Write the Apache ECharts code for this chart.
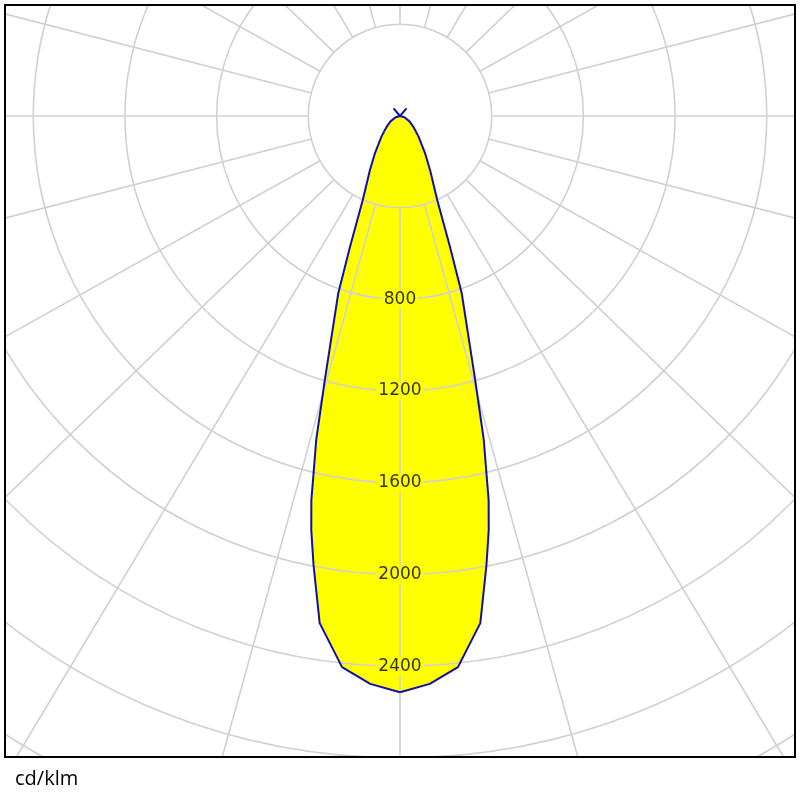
<!DOCTYPE html>
<html>
<head>
<meta charset="utf-8">
<script src="https://cdn.jsdelivr.net/npm/echarts@6/dist/echarts.min.js"></script>
<style>
html,body{margin:0;padding:0;background:#fff;}
#chart{width:800px;height:800px;}
</style>
</head>
<body>
<div id="chart"></div>
<script>
// Beam half-profile (gamma angle in degrees from nadir, intensity in cd/klm)
const gammaDeg = [0, 3, 6, 9, 10.9, 12.1, 13, 13.6, 14.5, 15.9, 19.2, 20.9, 23.9, 29, 34, 42, 51, 60, 75, 90, 140, 180];
const intensity = [2514, 2481, 2418, 2240, 1995, 1847, 1719, 1604, 1460, 1197, 819, 611, 401, 271, 195, 121, 75, 49, 20, 0, 44, 0];
// Polar grid (radial lines as drawn in the picture)
const gridAngles = [0, 15.5, 30.9, 46, 60.8, 75.5, 90, 104.5, 119.2, 134, 149.1, 164.5, 180,
                    195.5, 210.9, 226, 240.8, 255.5, 270, 284.5, 299.2, 314, 329.1, 344.5];
const ringLabels = [800, 1200, 1600, 2000, 2400];
const radiusMax = 3600;
const ringStep = 400;
const unitLabel = 'cd/klm';

// closed curve: left half then mirrored right half
const beam = [];
for (let i = 0; i < gammaDeg.length; i++) beam.push([intensity[i], gammaDeg[i]]);
for (let i = gammaDeg.length - 2; i >= 0; i--) beam.push([intensity[i], 360 - gammaDeg[i]]);

const gridColor = '#d0d0d0';
const series = [];
series.push({
  type: 'line', coordinateSystem: 'polar', data: beam, symbol: 'none', clip: false,
  lineStyle: {width: 0, opacity: 0}, areaStyle: {color: '#ffff00', opacity: 1}, z: 1, silent: true
});
gridAngles.forEach(a => {
  series.push({
    type: 'line', coordinateSystem: 'polar', data: [[ringStep, a], [radiusMax, a]], symbol: 'none', clip: false,
    lineStyle: {color: gridColor, width: 1.6}, z: 3, silent: true
  });
});
series.push({
  type: 'line', coordinateSystem: 'polar', data: beam, symbol: 'none', clip: false,
  lineStyle: {color: '#1010a8', width: 2}, z: 4, silent: true
});
series.push({
  type: 'scatter', coordinateSystem: 'polar', data: ringLabels.map(v => [v, 0]), symbolSize: 0, z: 5,
  label: {show: true, position: 'inside', formatter: p => String(p.value[0]), color: '#000',
    fontSize: 17, fontFamily: 'DejaVu Sans', backgroundColor: '#ffff00', padding: [1, 2]}
});

const chart = echarts.init(document.getElementById('chart'), null, {renderer: 'canvas'});
chart.setOption({
  animation: false,
  backgroundColor: '#fff',
  polar: {center: [400, 116], radius: radiusMax * 0.2292},
  angleAxis: {type: 'value', min: 0, max: 360, startAngle: 270, clockwise: true,
    axisLine: {show: false}, axisTick: {show: false}, axisLabel: {show: false}, splitLine: {show: false}},
  radiusAxis: {type: 'value', min: 0, max: radiusMax, interval: ringStep, z: 3,
    axisLine: {show: false}, axisTick: {show: false}, axisLabel: {show: false},
    splitLine: {show: true, lineStyle: {color: gridColor, width: 1.6}}},
  series: series,
  graphic: [
    {type: 'rect', shape: {x: 0, y: 0, width: 800, height: 5}, style: {fill: '#fff'}, z: 100},
    {type: 'rect', shape: {x: 0, y: 757, width: 800, height: 43}, style: {fill: '#fff'}, z: 100},
    {type: 'rect', shape: {x: 0, y: 0, width: 5, height: 800}, style: {fill: '#fff'}, z: 100},
    {type: 'rect', shape: {x: 795, y: 0, width: 5, height: 800}, style: {fill: '#fff'}, z: 100},
    {type: 'rect', shape: {x: 5, y: 5, width: 790, height: 752}, style: {fill: 'none', stroke: '#000', lineWidth: 2}, z: 101},
    {type: 'text', x: 15, y: 779, style: {text: unitLabel, fontSize: 20, fontFamily: 'Open Sans', fill: '#000', textVerticalAlign: 'middle'}, z: 101}
  ]
});
</script>
</body>
</html>
